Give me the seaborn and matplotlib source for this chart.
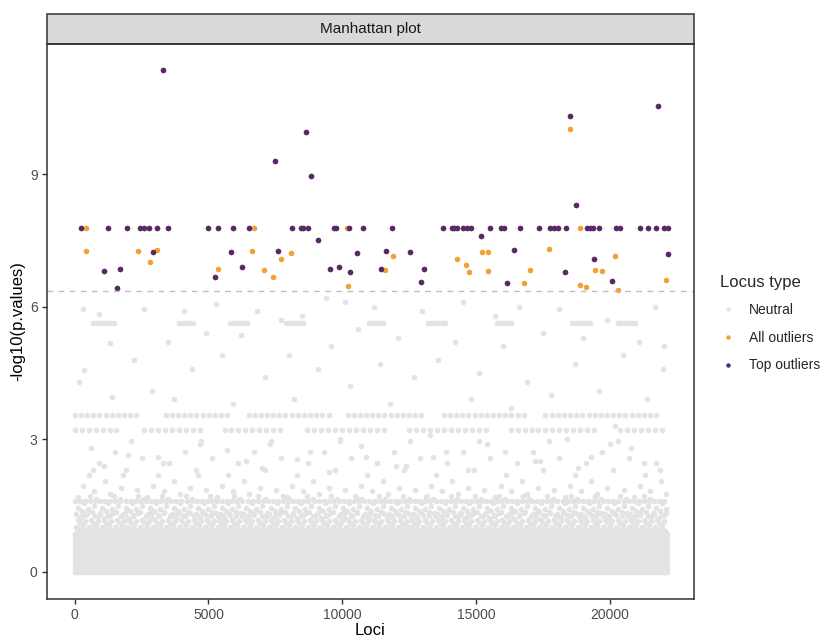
import numpy as np
import pandas as pd
import matplotlib
matplotlib.use("Agg")
import matplotlib.pyplot as plt
import seaborn as sns
from matplotlib.lines import Line2D
from matplotlib.patches import Rectangle

# ---------------- data ----------------
# Top outliers (locus index, -log10 p)
top_x = [252, 1257, 1947, 2425, 2600, 2787, 3077, 3480, 4998, 5350, 5902, 6516,
         8124, 8452, 8539, 8738, 9706, 9781, 10260, 10787, 11853, 13786, 14102,
         14188, 14301, 14501, 14652, 14829, 15533, 15921, 16034, 16663, 17352,
         17767, 17918, 18068, 18358, 19172, 19273, 19360, 19612, 20240, 20403,
         21119, 21431, 21721, 22034, 22185,
         3292, 7495, 8640, 8828, 18520, 21808, 18757, 9104, 15194,
         2915, 5827, 7597, 10546, 11638, 12519, 16411, 19397, 22185,
         1081, 1695, 5262, 1571, 6253, 9556, 9882, 10282, 11439, 13058, 12933,
         16158, 18331, 20102]
top_y = [7.78] * 48 + \
        [11.36, 9.30, 9.96, 8.97, 10.32, 10.55, 8.30, 7.51, 7.59,
         7.25, 7.25, 7.27, 7.22, 7.27, 7.25, 7.28, 7.09, 7.19,
         6.81, 6.85, 6.68, 6.42, 6.91, 6.85, 6.91, 6.79, 6.85, 6.85, 6.57,
         6.54, 6.79, 6.59]

# Outliers that are not in the top set
other_x = [430, 6719, 10184, 18897, 403, 2350, 3077, 2802, 5350, 6618, 7722,
           8099, 7081, 7420, 11616, 10207, 11891, 14275, 15243, 15469, 17750,
           14614, 14741, 15456, 17013, 16813, 20203, 19461, 19699, 18897,
           19111, 20328, 22124, 18520]
other_y = [7.78, 7.78, 7.78, 7.78, 7.27, 7.26, 7.29, 7.02, 6.85, 7.27, 7.08,
           7.22, 6.83, 6.68, 6.83, 6.48, 7.15, 7.08, 7.24, 7.24, 7.30,
           6.94, 6.79, 6.80, 6.83, 6.54, 7.15, 6.83, 6.81, 6.49,
           6.45, 6.38, 6.60, 10.02]

threshold = 6.35

# Neutral loci: bulk of low values, discrete p-value rows and scattered highs
n_loci = 22150
band_levels = [0.0, 0.08, 0.16, 0.24, 0.32, 0.40, 0.48, 0.56, 0.64, 0.72, 0.80]
band_step = 60
fuzzy_low = [0.86, 1.02, 0.93, 1.18, 0.97, 1.10, 0.89, 1.25, 1.05, 0.95, 1.14, 0.91, 1.33]
fuzzy_mid = [1.30, 1.45, 1.22, 1.38, 1.55, 1.28, 1.41, 1.72, 1.35, 1.49, 1.64, 1.26]
fuzzy_high = [1.70, 1.95, 2.20, 1.82, 2.45, 2.05, 1.76, 2.70, 1.90, 2.30, 2.95, 1.85, 2.58]
row_levels = [1.60, 3.20, 3.55, 5.63]
row_steps = [190, 260, 230, 130]
row_segments = [
    [(0, 22150)],
    [(0, 1800), (2600, 4800), (5600, 7900), (8700, 11800), (12500, 15500),
     (16300, 19600), (20400, 22000)],
    [(0, 2500), (3400, 5800), (6500, 9500), (10200, 13000), (13800, 17000),
     (17600, 21900)],
    [(700, 1500), (3900, 4500), (5800, 6500), (7900, 8600), (11000, 11600),
     (13200, 13900), (15800, 16400), (18600, 19300), (20300, 21000)],
]
sparse_x = [300, 900, 1300, 150, 350, 1400, 600, 1100, 1800, 2200, 2600, 2900,
            3100, 3500, 3700, 4100, 4400, 4700, 4900, 5300, 5500, 5900, 6200,
            6400, 6800, 7100, 7300, 7700, 8000, 8200, 8500, 8800, 9100, 9400,
            9600, 9900, 10100, 10300, 10600, 10900, 11200, 11400, 11800, 12100,
            12400, 12700, 13000, 13300, 13600, 13900, 14200, 14500, 14800,
            15100, 15400, 15700, 16000, 16300, 16600, 16900, 17200, 17500,
            17800, 18100, 18400, 18700, 19000, 19300, 19600, 19900, 20200,
            20500, 20800, 21100, 21400, 21700, 22000, 22050, 21900,
            700, 2000, 3300, 4600, 5700, 7000, 8300, 9500, 10700, 12000,
            13400, 14700, 16100, 17400, 18800, 20000, 21300]
sparse_y = [5.94, 5.83, 5.17, 4.30, 4.57, 3.96, 2.80, 2.40, 2.20, 4.80, 5.95,
            4.10, 2.60, 5.20, 3.90, 5.90, 4.60, 2.90, 5.40, 6.05, 4.90, 3.80,
            5.35, 2.50, 5.90, 4.40, 2.90, 5.70, 4.90, 3.90, 5.80, 2.70, 4.60,
            6.20, 5.10, 3.00, 6.10, 4.20, 5.50, 2.60, 6.00, 4.70, 3.80, 5.30,
            2.40, 4.40, 5.90, 3.10, 4.80, 2.70, 5.20, 6.10, 3.90, 4.50, 2.90,
            5.80, 5.10, 3.70, 6.00, 4.30, 2.50, 5.40, 4.00, 5.95, 3.00, 4.70,
            5.30, 2.60, 4.10, 5.70, 3.30, 4.90, 2.80, 5.20, 3.90, 6.00, 4.60,
            5.10, 2.30,
            2.30, 2.65, 2.45, 2.20, 2.75, 2.35, 2.55, 2.25, 2.85, 2.40,
            2.60, 2.30, 2.70, 2.50, 2.35, 2.90, 2.45]

# ---------------- table for plotting ----------------
parts_x, parts_y = [], []
band_loci = np.arange(0, n_loci, band_step)
for lev in band_levels:
    parts_x.append(band_loci)
    parts_y.append(np.full(band_loci.size, lev))
for vals, step, start in [(fuzzy_low, 37, 10), (fuzzy_mid, 75, 45), (fuzzy_high, 200, 120)]:
    loci = np.arange(start, n_loci, step)
    parts_x.append(loci)
    parts_y.append(np.resize(np.array(vals), loci.size))
for lev, step, segs in zip(row_levels, row_steps, row_segments):
    for a, b in segs:
        loci = np.arange(a, b, step)
        parts_x.append(loci)
        parts_y.append(np.full(loci.size, lev))
parts_x.append(np.array(sparse_x))
parts_y.append(np.array(sparse_y))

neutral = pd.DataFrame({"Loci": np.concatenate(parts_x),
                        "logp": np.concatenate(parts_y),
                        "type": "Neutral"})
all_out = pd.DataFrame({"Loci": other_x + top_x, "logp": other_y + top_y,
                        "type": "All outliers"})
top_out = pd.DataFrame({"Loci": top_x, "logp": top_y, "type": "Top outliers"})

# ---------------- styling ----------------
sns.set_theme(style="white")
plt.rcParams["font.family"] = ["Liberation Sans", "DejaVu Sans"]

col_neutral = "#E3E3E3"
col_all = "#F4A035"
col_top = "#55296E"
frame = "#333333"

fig = plt.figure(figsize=(8.29, 6.4), dpi=100)
ax = fig.add_axes([0.0563, 0.064, 0.7807, 0.868])

sns.scatterplot(data=neutral, x="Loci", y="logp", color=col_neutral, s=16,
                linewidth=0, ax=ax, legend=False, rasterized=True)
sns.scatterplot(data=all_out, x="Loci", y="logp", color=col_all, s=16,
                linewidth=0, ax=ax, legend=False)
sns.scatterplot(data=top_out, x="Loci", y="logp", color=col_top, s=16,
                linewidth=0, ax=ax, legend=False)

ax.axhline(threshold, color="#BDBDBD", lw=1.0, ls=(0, (4, 4)), zorder=1.5)

ax.set_xlim(-1050, 23150)
ax.set_ylim(-0.62, 11.96)
ax.set_xticks([0, 5000, 10000, 15000, 20000])
ax.set_yticks([0, 3, 6, 9])
ax.tick_params(axis="both", direction="out", length=3.5, width=1,
               color=frame, labelcolor="#4D4D4D", labelsize=10, pad=3,
               bottom=True, left=True)
for sp in ax.spines.values():
    sp.set_color(frame)
    sp.set_linewidth(1.1)
ax.set_xlabel("Loci", fontsize=12, color="black", labelpad=1)
ax.set_ylabel("-log10(p.values)", fontsize=12, color="black", labelpad=3)

# facet strip
strip_h = 29.3 / 555.7
ax.add_patch(Rectangle((0, 1), 1, strip_h, transform=ax.transAxes,
                       facecolor="#D9D9D9", edgecolor=frame, lw=1.1,
                       clip_on=False))
ax.text(0.5, 1 + strip_h / 2, "Manhattan plot", transform=ax.transAxes,
        ha="center", va="center", fontsize=11, color="#1A1A1A")

# legend
handles = [Line2D([], [], ls="", marker="o", markersize=3.2, color=c,
                  markeredgewidth=0)
           for c in (col_neutral, col_all, col_top)]
leg = fig.legend(handles, ["Neutral", "All outliers", "Top outliers"],
                 title="Locus type", loc="upper left",
                 bbox_to_anchor=(714 / 829, 1 - 269 / 640),
                 frameon=False, fontsize=10, title_fontsize=12,
                 labelspacing=0.98, handletextpad=0.9, handlelength=1.2,
                 borderaxespad=0)
leg._legend_box.align = "left"

fig.savefig("out.png", dpi=100)
